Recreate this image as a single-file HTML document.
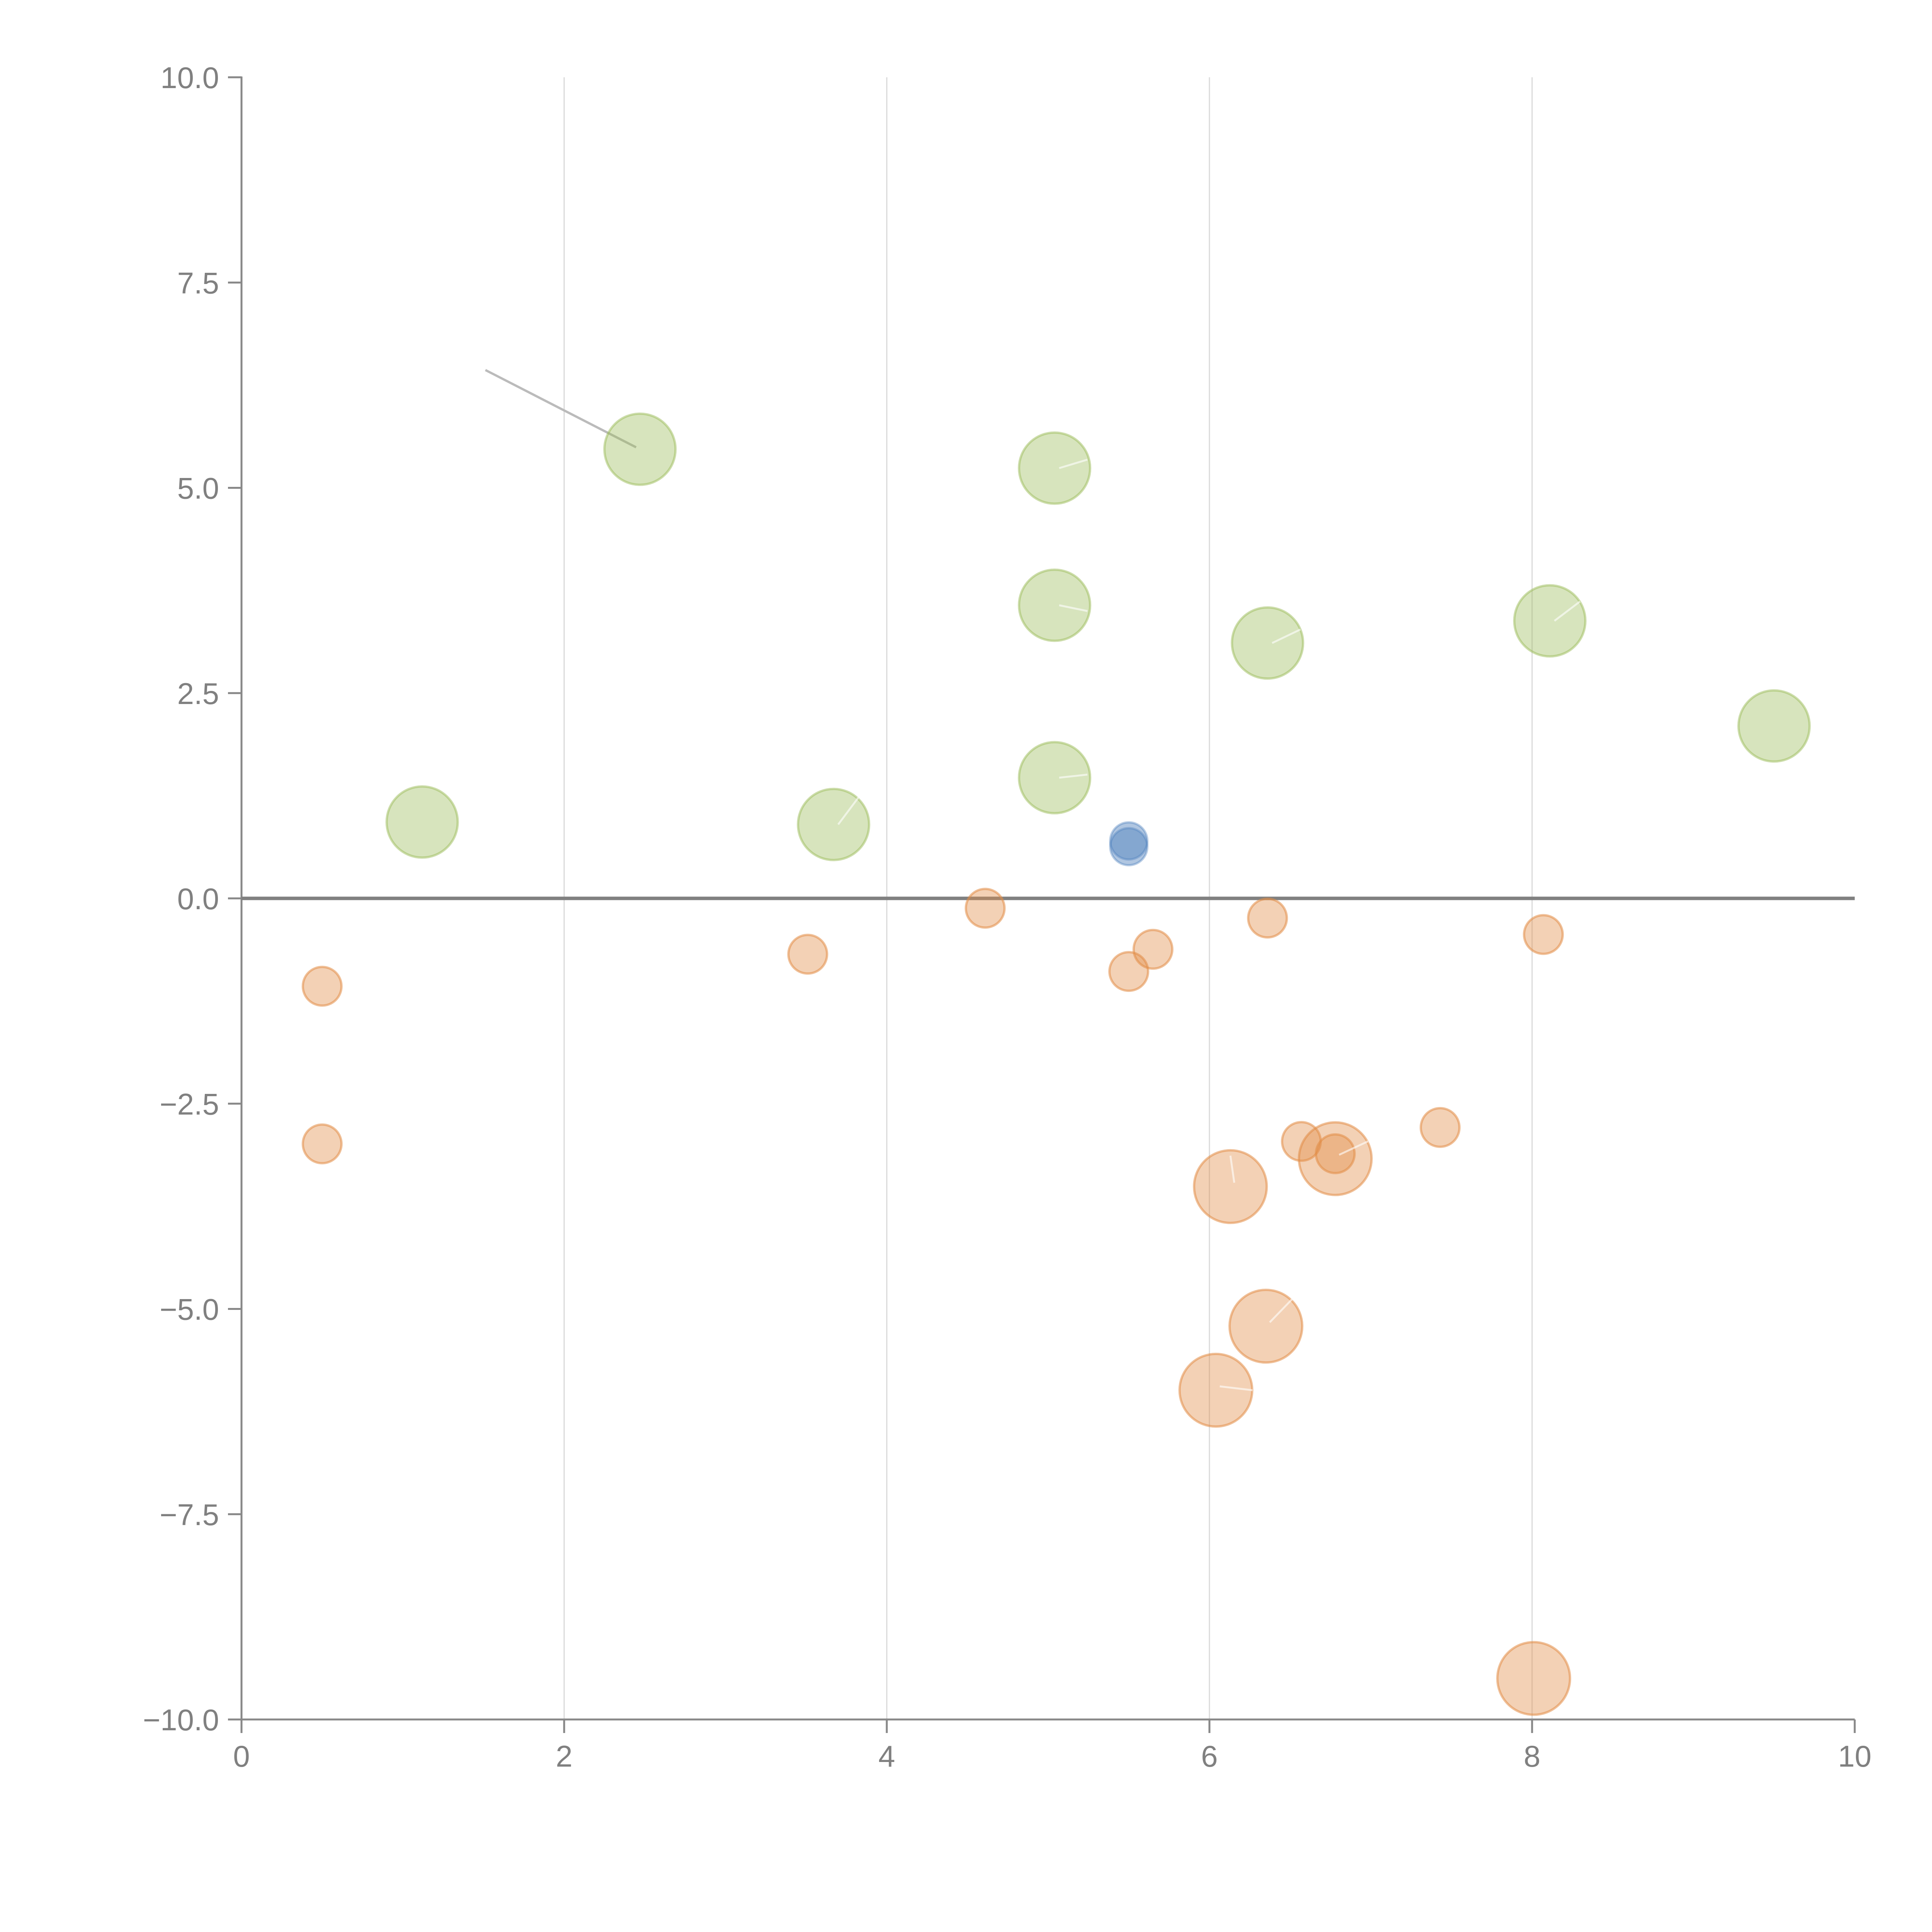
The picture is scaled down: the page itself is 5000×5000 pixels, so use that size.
<!DOCTYPE html>
<html><head><meta charset="utf-8"><style>
html,body{margin:0;padding:0;background:#fff;}
svg{display:block;}
text{font-family:"Liberation Sans",sans-serif;fill:#808080;font-size:78px;}
</style></head><body>
<svg id="chart" width="5000" height="5000" viewBox="0 0 5000 5000" xmlns="http://www.w3.org/2000/svg">
<g id="grid"></g>
<g id="axes"></g>
<g id="marks"></g>
</svg>
<script>
const xTicks = [0, 2, 4, 6, 8, 10];
const xTickLabels = ["0", "2", "4", "6", "8", "10"];
const yTicks = [10, 7.5, 5, 2.5, 0, -2.5, -5, -7.5, -10];
const yTickLabels = ["10.0", "7.5", "5.0", "2.5", "0.0", "\u22122.5", "\u22125.0", "\u22127.5", "\u221210.0"];

const greenX = [2.47, 1.12, 3.67, 5.04, 5.04, 5.04, 6.36, 8.11, 9.50];
const greenY = [5.47, 0.93, 0.90, 5.24, 3.57, 1.47, 3.11, 3.38, 2.10];
const blueX = [5.50, 5.50];
const blueY = [0.70, 0.63];
const orangeSmallX = [0.50, 0.50, 3.51, 4.61, 5.50, 5.65, 6.36, 8.07, 6.57, 6.78, 7.43];
const orangeSmallY = [-1.07, -2.99, -0.68, -0.12, -0.89, -0.62, -0.24, -0.44, -2.96, -3.11, -2.79];
const orangeLargeX = [6.13, 6.78, 6.35, 6.04, 8.01];
const orangeLargeY = [-3.51, -3.17, -5.21, -5.99, -9.50];

const X0 = 625, X1 = 4800, Y0 = 4450, Y1 = 200;
function sx(v){ return X0 + (v - 0) / 10 * (X1 - X0); }
function sy(v){ return Y0 - (v + 10) / 20 * (Y0 - Y1); }
const NS = "http://www.w3.org/2000/svg";
function mk(tag, attrs, parent){
  const e = document.createElementNS(NS, tag);
  for (const k in attrs) e.setAttribute(k, attrs[k]);
  parent.appendChild(e);
  return e;
}
const grid = document.getElementById('grid');
const axes = document.getElementById('axes');
const marks = document.getElementById('marks');

xTicks.forEach((t, i) => {
  if (t > 0 && t < 10) {
    const g = mk('line', {x1: sx(t), x2: sx(t), y1: Y1, y2: Y0, stroke: '#d9d9d9', 'stroke-width': 3}, grid);
    
    
  }
  const tk = mk('line', {x1: sx(t), x2: sx(t), y1: Y0, y2: Y0 + 35, stroke: '#888', 'stroke-width': 5}, axes);
  
  
  const lb = mk('text', {x: sx(t), y: Y0 + 122, 'text-anchor': 'middle'}, axes);
  lb.textContent = xTickLabels[i];
  
  
});
yTicks.forEach((t, i) => {
  const tk = mk('line', {x1: X0 - 35, x2: X0, y1: sy(t), y2: sy(t), stroke: '#888', 'stroke-width': 5}, axes);
  
  
  const lb = mk('text', {x: X0 - 58, y: sy(t) + 28, 'text-anchor': 'end'}, axes);
  lb.textContent = yTickLabels[i];
  
  
});
const ya = mk('line', {x1: X0, x2: X0, y1: Y1 - 2, y2: Y0 + 35, stroke: '#888', 'stroke-width': 5}, axes);


const xa = mk('line', {x1: X0 - 35, x2: X1, y1: Y0, y2: Y0, stroke: '#888', 'stroke-width': 5}, axes);


const zl = mk('line', {x1: X0, x2: X1, y1: sy(0), y2: sy(0), stroke: '#808080', 'stroke-width': 9}, axes);



const ll = mk('line', {x1: sx(greenX[0]) - 400, y1: sy(greenY[0]) - 205, x2: sx(greenX[0]) - 10, y2: sy(greenY[0]) - 5, stroke: '#bbb', 'stroke-width': 6}, marks);



function drawSeries(xs, ys, r, fill, stroke, name){
  xs.forEach((v, i) => {
    const c = mk('circle', {cx: sx(v), cy: sy(ys[i]), r: r, fill: fill, stroke: stroke, 'stroke-width': 6}, marks);
    
    
  });
}
drawSeries(greenX, greenY, 92, 'rgba(155,187,89,0.4)', 'rgba(155,187,89,0.5)', 'bubble-green');
drawSeries(orangeLargeX, orangeLargeY, 94, 'rgba(226,140,70,0.4)', 'rgba(226,140,70,0.55)', 'bubble-orange-large');
drawSeries(orangeSmallX, orangeSmallY, 50, 'rgba(226,140,70,0.4)', 'rgba(226,140,70,0.55)', 'bubble-orange-small');
drawSeries(blueX, blueY, 48, 'rgba(79,129,189,0.45)', 'rgba(79,129,189,0.4)', 'bubble-blue');

const wl = [[3,85,-22],[4,85,15],[5,85,-8],[6,85,-35],[7,78,-50],[2,66,-72]];
wl.forEach(a => {
  const l = mk('line', {x1: sx(greenX[a[0]]) + 12, y1: sy(greenY[a[0]]), x2: sx(greenX[a[0]]) + a[1], y2: sy(greenY[a[0]]) + a[2], stroke: 'rgba(255,255,255,0.6)', 'stroke-width': 5}, marks);
  
  
});
const ol = [[0,0,-80],[1,85,-45],[2,68,-70],[3,95,0]];
ol.forEach(a => {
  const l = mk('line', {x1: sx(orangeLargeX[a[0]]) + 10, y1: sy(orangeLargeY[a[0]]) - 10, x2: sx(orangeLargeX[a[0]]) + a[1], y2: sy(orangeLargeY[a[0]]) + a[2], stroke: 'rgba(255,255,255,0.6)', 'stroke-width': 5}, marks);
  
  
});
</script>
</body></html>
